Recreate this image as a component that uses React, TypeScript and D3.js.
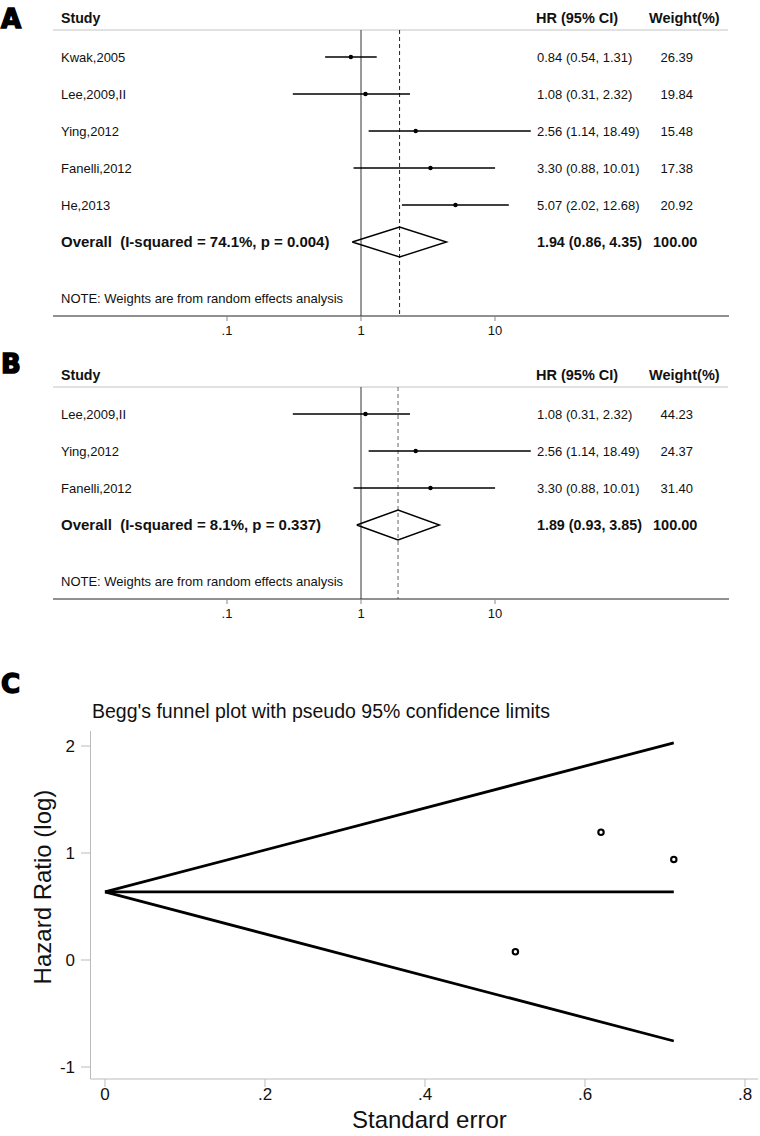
import React from "react";
import * as d3 from "d3";

// ---------- Panel A data ----------
const studiesA = ["Kwak,2005", "Lee,2009,II", "Ying,2012", "Fanelli,2012", "He,2013"];
const hrA = [0.84, 1.08, 2.56, 3.3, 5.07];
const lowA = [0.54, 0.31, 1.14, 0.88, 2.02];
const highA = [1.31, 2.32, 18.49, 10.01, 12.68];
const weightA = [26.39, 19.84, 15.48, 17.38, 20.92];
const overallA = [1.94, 0.86, 4.35];
const hetA = ["74.1%", "0.004"];

// ---------- Panel B data ----------
const studiesB = ["Lee,2009,II", "Ying,2012", "Fanelli,2012"];
const hrB = [1.08, 2.56, 3.3];
const lowB = [0.31, 1.14, 0.88];
const highB = [2.32, 18.49, 10.01];
const weightB = [44.23, 24.37, 31.4];
const overallB = [1.89, 0.93, 3.85];
const hetB = ["8.1%", "0.337"];

const forestTicks = [0.1, 1, 10];
const forestTickLabels = [".1", "1", "10"];

// ---------- Panel C data ----------
const funnelSE = [0.513, 0.711, 0.62];
const funnelLogHR = [0.077, 0.94, 1.194];
const funnelApex = [0, 0.636];
const funnelUpperEnd = [0.711, 2.03];
const funnelCenterEnd = [0.711, 0.636];
const funnelLowerEnd = [0.711, -0.757];
const funnelXTicks = [0, 0.2, 0.4, 0.6, 0.8];
const funnelXTickLabels = ["0", ".2", ".4", ".6", ".8"];
const funnelYTicks = [-1, 0, 1, 2];

const FONT = "'Liberation Sans', Arial, Helvetica, sans-serif";
const fmt = (v: number) => v.toFixed(2);

const xForest = d3.scaleLog().domain([0.1, 10]).range([227, 495]);

type ForestProps = {
  top: number;
  studies: string[];
  hr: number[];
  low: number[];
  high: number[];
  weight: number[];
  overall: number[];
  het: string[];
  dashColor: string;
};

function Forest({ top, studies, hr, low, high, weight, overall, het, dashColor }: ForestProps) {
  const lineY = top + 30;
  const rowY = (i: number) => top + 57 + i * 37;
  const overallY = rowY(studies.length);
  const noteY = overallY + 56;
  const axisY = noteY + 18;
  const dx = xForest(overall[0]);
  const diamond = d3.line()([
    [xForest(overall[1]), overallY],
    [dx, overallY - 15],
    [xForest(overall[2]), overallY],
    [dx, overallY + 15],
    [xForest(overall[1]), overallY],
  ]) as string;
  return (
    <g fontFamily={FONT} fill="#111">
      <text x={61} y={top + 18} dy="0.35em" fontSize={14.2} fontWeight="bold">Study</text>
      <text x={536} y={top + 18} dy="0.35em" fontSize={14.5} fontWeight="bold">HR (95% CI)</text>
      <text x={649} y={top + 18} dy="0.35em" fontSize={14.5} fontWeight="bold">Weight(%)</text>
      <line x1={53} x2={728} y1={lineY} y2={lineY} stroke="#c4c4c4" strokeWidth={1} />
      <line x1={xForest(1)} x2={xForest(1)} y1={lineY} y2={axisY} stroke="#555" strokeWidth={1.2} />
      <line x1={dx} x2={dx} y1={lineY} y2={axisY} stroke={dashColor} strokeWidth={1} strokeDasharray="4,3" />
      {studies.map((s, i) => (
        <g key={s}>
          <text x={61} y={rowY(i)} dy="0.35em" fontSize={13}>{s}</text>
          <line x1={xForest(low[i])} x2={xForest(high[i])} y1={rowY(i)} y2={rowY(i)} stroke="#000" strokeWidth={1.7} />
          <circle cx={xForest(hr[i])} cy={rowY(i)} r={2.2} fill="#000" />
          <text x={537} y={rowY(i)} dy="0.35em" fontSize={13}>
            {`${fmt(hr[i])} (${fmt(low[i])}, ${fmt(high[i])})`}
          </text>
          <text x={693} y={rowY(i)} dy="0.35em" fontSize={13} textAnchor="end">{fmt(weight[i])}</text>
        </g>
      ))}
      <text x={61} y={overallY} dy="0.35em" fontSize={15} fontWeight="bold" style={{ whiteSpace: "pre" }}>
        {`Overall  (I-squared = ${het[0]}, p = ${het[1]})`}
      </text>
      <path d={diamond} fill="none" stroke="#000" strokeWidth={1.4} />
      <text x={537} y={overallY} dy="0.35em" fontSize={14.3} fontWeight="bold">
        {`${fmt(overall[0])} (${fmt(overall[1])}, ${fmt(overall[2])})`}
      </text>
      <text x={653} y={overallY} dy="0.35em" fontSize={14.5} fontWeight="bold">100.00</text>
      <text x={61} y={noteY} dy="0.35em" fontSize={13}>NOTE: Weights are from random effects analysis</text>
      <line x1={53} x2={729} y1={axisY} y2={axisY} stroke="#222" strokeWidth={1.2} />
      {forestTicks.map((t, i) => (
        <g key={t}>
          <line x1={xForest(t)} x2={xForest(t)} y1={axisY} y2={axisY + 5} stroke="#888" />
          <text x={xForest(t)} y={axisY + 14} dy="0.35em" fontSize={13} textAnchor="middle">{forestTickLabels[i]}</text>
        </g>
      ))}
    </g>
  );
}

function Funnel() {
  const x = d3.scaleLinear().domain([0, 0.8]).range([105, 745]);
  const y = d3.scaleLinear().domain([-1, 2]).range([1067, 746]);
  const line = d3
    .line<number[]>()
    .x((d) => x(d[0]))
    .y((d) => y(d[1]));
  const axisX0 = 90.5;
  const axisY0 = 1079;
  return (
    <g fontFamily={FONT}>
      <text x={92} y={718} fontSize={19.5} fill="#111">Begg's funnel plot with pseudo 95% confidence limits</text>
      <line x1={axisX0} x2={axisX0} y1={731} y2={axisY0} stroke="#bbb" strokeWidth={1} />
      <line x1={axisX0} x2={758} y1={axisY0} y2={axisY0} stroke="#bbb" strokeWidth={1} />
      {funnelYTicks.map((t) => (
        <g key={t}>
          <line x1={81} x2={axisX0} y1={y(t)} y2={y(t)} stroke="#bbb" />
          <text x={75} y={y(t)} dy="0.35em" fontSize={17} textAnchor="end" fill="#111">{String(t)}</text>
        </g>
      ))}
      {funnelXTicks.map((t, i) => (
        <g key={t}>
          <line x1={x(t)} x2={x(t)} y1={axisY0} y2={axisY0 + 8} stroke="#bbb" />
          <text x={x(t)} y={1100} fontSize={17} textAnchor="middle" fill="#111">{funnelXTickLabels[i]}</text>
        </g>
      ))}
      <text x={352} y={1128} fontSize={24} fill="#111">Standard error</text>
      <text transform="translate(50.5,887) rotate(-90)" fontSize={24} textAnchor="middle" fill="#111">Hazard Ratio (log)</text>
      <path d={line([funnelApex, funnelUpperEnd]) as string} stroke="#000" strokeWidth={2.8} fill="none" />
      <path d={line([funnelApex, funnelCenterEnd]) as string} stroke="#000" strokeWidth={2.8} fill="none" />
      <path d={line([funnelApex, funnelLowerEnd]) as string} stroke="#000" strokeWidth={2.8} fill="none" />
      {funnelSE.map((s, i) => (
        <circle key={i} cx={x(s)} cy={y(funnelLogHR[i])} r={2.7} fill="none" stroke="#000" strokeWidth={2.1} />
      ))}
    </g>
  );
}

function PanelLabel({ text, x, y }: { text: string; x: number; y: number }) {
  return (
    <text x={x} y={y} fontFamily="'DejaVu Sans', Arial, sans-serif" fontWeight="bold" fontSize={26}
      fill="#000" stroke="#000" strokeWidth={1.5}>
      {text}
    </text>
  );
}

export default function App() {
  return (
    <svg width={760} height={1136} style={{ position: "absolute", left: 0, top: 0, background: "#fff" }}>
      <rect width={760} height={1136} fill="#fff" />
      <PanelLabel text="A" x={1} y={28} />
      <Forest top={0} studies={studiesA} hr={hrA} low={lowA} high={highA} weight={weightA}
        overall={overallA} het={hetA} dashColor="#222" />
      <PanelLabel text="B" x={1} y={373} />
      <Forest top={357} studies={studiesB} hr={hrB} low={lowB} high={highB} weight={weightB}
        overall={overallB} het={hetB} dashColor="#666" />
      <PanelLabel text="C" x={1} y={693} />
      <Funnel />
    </svg>
  );
}
